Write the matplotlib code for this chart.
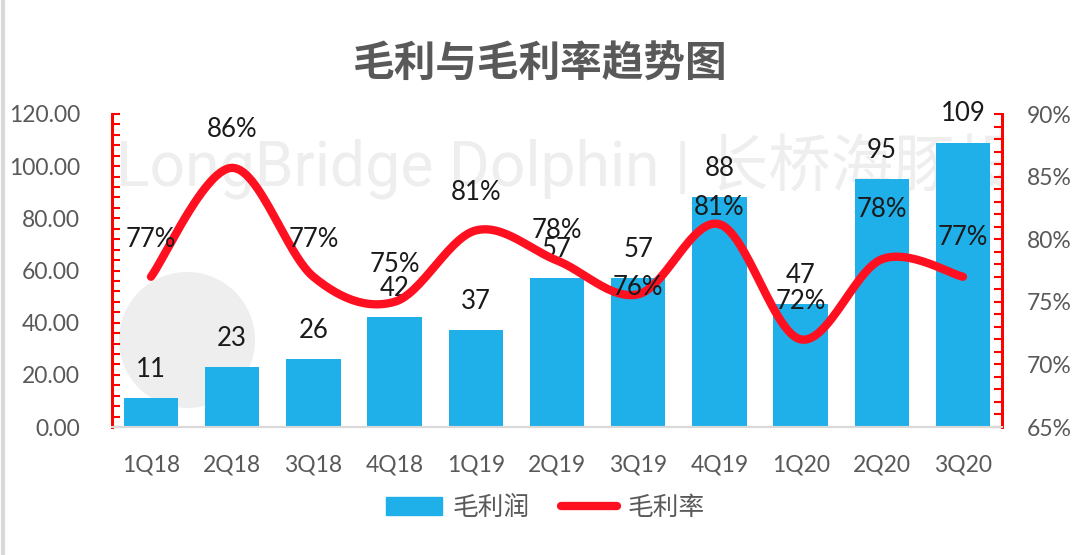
import numpy as np
import matplotlib.pyplot as plt
from matplotlib.patches import Rectangle, Ellipse
from matplotlib.ticker import MultipleLocator, FormatStrFormatter

plt.rcParams['font.family'] = ['Lato', 'Noto Sans CJK SC', 'DejaVu Sans']

# data
quarters = ['1Q18', '2Q18', '3Q18', '4Q18', '1Q19', '2Q19', '3Q19', '4Q19', '1Q20', '2Q20', '3Q20']
gross_profit = [11, 23, 26, 42, 37, 57, 57, 88, 47, 95, 109]
gross_margin = [77, 85.7, 77, 75, 80.7, 78.3, 75.6, 81.2, 72, 78.4, 77]

# label offsets (pixels above the point)
pct_dy = [37, 38, 37, 37, 38, 30, 7, 17, 38, 50, 39]

bar_color = '#1FB0EA'
line_color = '#FF1020'
gray = '#595959'


def catmull_rom(x, y, n=30):
    # smooth curve through the points, like excel's smoothed line
    x = np.asarray(x, float)
    y = np.asarray(y, float)
    px = np.concatenate([[x[0]], x, [x[-1]]])
    py = np.concatenate([[y[0]], y, [y[-1]]])
    xs, ys = [], []
    t = np.linspace(0, 1, n)
    for i in range(1, len(px) - 2):
        for p, out in ((px, xs), (py, ys)):
            p0, p1, p2, p3 = p[i - 1], p[i], p[i + 1], p[i + 2]
            out.extend(0.5 * ((2 * p1) + (-p0 + p2) * t
                              + (2 * p0 - 5 * p1 + 4 * p2 - p3) * t ** 2
                              + (-p0 + 3 * p1 - 3 * p2 + p3) * t ** 3))
    return np.array(xs), np.array(ys)


fig = plt.figure(figsize=(10.8, 5.55), dpi=100)
ax = fig.add_axes([112 / 1080, 1 - 427 / 555, 890 / 1080, 313 / 555])
ax2 = ax.twinx()

# frame around the picture
fig.patches.append(Rectangle((0.003, -0.01), 1.2, 1.2, transform=fig.transFigure,
                             fill=False, edgecolor='#D9D9D9', linewidth=3))

# watermark
ax.text(0.005, 0.83, 'LongBridge Dolphin | 长桥海豚投研', transform=ax.transAxes,
        fontsize=45, color='#EEEEEE', va='center', ha='left', zorder=0,
        family=['Roboto', 'Noto Sans CJK SC'], clip_on=True)
ax.add_patch(Ellipse((75 / 890, 87 / 313), 136 / 890, 136 / 313, transform=ax.transAxes,
                     facecolor='#EEEEEE', edgecolor='none', zorder=0, clip_on=True))

x = np.arange(len(quarters))
ax.bar(x, gross_profit, width=0.67, color=bar_color, zorder=2)
for xi, v in zip(x, gross_profit):
    ax.annotate(str(v), (xi, v), xytext=(0, 29), textcoords='offset pixels',
                ha='center', va='center', fontsize=18.5, color='#1A1A1A', zorder=5)

sx, sy = catmull_rom(x, gross_margin)
ax2.plot(sx, sy, color=line_color, linewidth=6, solid_capstyle='round', zorder=3)
for xi, v, dy in zip(x, gross_margin, pct_dy):
    ax2.annotate('%d%%' % round(v), (xi, v), xytext=(0, dy), textcoords='offset pixels',
                 ha='center', va='center', fontsize=18.5, color='#1A1A1A', zorder=5)

ax.set_xlim(-0.48, 10.48)
ax.set_ylim(0, 120)
ax2.set_ylim(65, 90)
ax.yaxis.set_major_locator(MultipleLocator(20))
ax.yaxis.set_minor_locator(MultipleLocator(4))
ax.yaxis.set_major_formatter(FormatStrFormatter('%.2f'))
ax2.yaxis.set_major_locator(MultipleLocator(5))
ax2.yaxis.set_minor_locator(MultipleLocator(1))
ax2.yaxis.set_major_formatter(FormatStrFormatter('%d%%'))

ax.set_xticks(x)
ax.set_xticklabels(quarters)
ax.tick_params(axis='x', length=0, pad=20, labelsize=16.5, labelcolor=gray)
ax.tick_params(axis='y', which='both', direction='in', length=6, width=1.5,
               color='red', labelsize=16.5, labelcolor=gray, pad=23)
ax2.tick_params(axis='y', which='both', direction='in', length=6, width=1.5,
                color='red', labelsize=16.5, labelcolor=gray, pad=18)

for a in (ax, ax2):
    a.spines['top'].set_visible(False)
    a.spines['bottom'].set_color('#D9D9D9')
    a.spines['bottom'].set_linewidth(1.5)
    a.spines['left'].set_color('red')
    a.spines['right'].set_color('red')
    a.spines['left'].set_linewidth(2)
    a.spines['right'].set_linewidth(2)
ax.patch.set_visible(False)
ax2.set_zorder(ax.get_zorder() + 1)

fig.text(0.5, 1 - 65 / 555, '毛利与毛利率趋势图', ha='center', va='center',
         fontsize=30, fontweight='bold', color=gray, family=['Noto Sans CJK SC'])

h1 = Rectangle((0, 0), 1, 1, color=bar_color)
h2 = plt.Line2D([0], [0], color=line_color, linewidth=6, solid_capstyle='round')
fig.legend([h1, h2], ['毛利润', '毛利率'], loc='center', bbox_to_anchor=(0.505, 1 - 508 / 555),
           ncol=2, frameon=False, prop={'family': 'Noto Sans CJK SC', 'size': 18.5},
           labelcolor=gray, handlelength=2.2, handletextpad=0.4, columnspacing=1.2)

fig.savefig('out.png', dpi=100)
